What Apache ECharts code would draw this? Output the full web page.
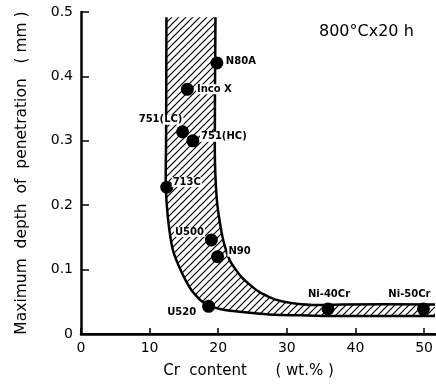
<!DOCTYPE html>
<html>
<head>
<meta charset="utf-8">
<script src="https://cdn.jsdelivr.net/npm/echarts@6/dist/echarts.min.js"></script>
<style>
  html, body { margin: 0; padding: 0; background: #fff; }
  #chart { width: 436px; height: 385px; }
</style>
</head>
<body>
<div id="chart"></div>
<script>
// Alloys tested: Cr content (wt.%) and maximum penetration depth (mm)
const alloyNames = ['N80A', 'Inco X', '751(LC)', '751(HC)', '713C', 'U500', 'N90', 'U520', 'Ni-40Cr', 'Ni-50Cr'];
const crContent = [19.8, 15.5, 14.8, 16.3, 12.5, 19.0, 19.9, 18.6, 36.0, 49.9];
const penetration = [0.421, 0.380, 0.314, 0.300, 0.228, 0.146, 0.120, 0.043, 0.039, 0.039];

// Label placement around each marker (px offset of text centre)
const labelOffsets = [[24, -1], [27, 0], [-22, -12], [31, -4], [20, -5], [-22, -8], [22, -5], [-27, 6], [1, -14], [-14, -14]];

// Scatter band: lower/left boundary (top to bottom, then along the base)
const lowerBoundX = [12.45, 12.4, 12.35, 12.65, 13.4, 14.7, 16.1, 17.7, 19.5, 21.2, 24.6, 28.0, 32.0, 36.0, 51.6];
const lowerBoundY = [0.492, 0.300, 0.234, 0.182, 0.130, 0.095, 0.068, 0.050, 0.041, 0.037, 0.033, 0.030, 0.029, 0.028, 0.028];
// Upper/right boundary (top to bottom, then out to the right)
const upperBoundX = [19.6, 19.5, 19.8, 20.5, 21.0, 21.8, 23.5, 26.0, 28.5, 31.4, 34.7, 38.0, 51.6];
const upperBoundY = [0.492, 0.286, 0.208, 0.157, 0.135, 0.112, 0.087, 0.065, 0.053, 0.047, 0.045, 0.046, 0.046];

const xTicks = { min: 0, max: 51.6, interval: 10 };
const yTicks = { min: 0, max: 0.5, interval: 0.1 };

function makeHatch() {
  const s = 7;
  const c = document.createElement('canvas');
  c.width = s; c.height = s;
  const g = c.getContext('2d');
  g.strokeStyle = '#000';
  g.lineWidth = 1.2;
  g.beginPath();
  g.moveTo(-1, s + 1); g.lineTo(s + 1, -1);
  g.moveTo(-1, 1); g.lineTo(1, -1);
  g.moveTo(s - 1, s + 1); g.lineTo(s + 1, s - 1);
  g.stroke();
  return c;
}
const hatch = makeHatch();

const chart = echarts.init(document.getElementById('chart'), null, { renderer: 'canvas' });
const FONT = 'DejaVu Sans';

const scatterData = alloyNames.map((n, i) => ({
  name: n,
  value: [crContent[i], penetration[i]],
  label: {
    show: true,
    formatter: n,
    position: 'inside',
    offset: labelOffsets[i],
    align: 'center',
    verticalAlign: 'middle',
    fontFamily: FONT,
    fontWeight: 'bold',
    fontSize: 10,
    color: '#000',
    opacity: 1,
    backgroundColor: '#fff',
    padding: [0, 1]
  }
}));

chart.setOption({
  animation: false,
  backgroundColor: '#fff',
  grid: { left: 81, right: 0, top: 12, bottom: 51, containLabel: false },
  xAxis: [{
    type: 'value',
    min: xTicks.min, max: xTicks.max, interval: xTicks.interval,
    name: 'Cr  content      ( wt.% )    ',
    nameLocation: 'middle',
    nameGap: 30,
    nameTextStyle: { fontFamily: FONT, fontSize: 15, color: '#000' },
    axisLine: { show: true, onZero: false, lineStyle: { color: '#000', width: 2.5 } },
    axisTick: { show: true, inside: true, length: 6, lineStyle: { color: '#000', width: 1.5 } },
    axisLabel: { fontFamily: FONT, fontSize: 14, color: '#000', margin: 7, showMaxLabel: false },
    splitLine: { show: false }
  }, {
    type: 'value',
    position: 'top',
    min: xTicks.min, max: xTicks.max,
    axisLine: { show: true, lineStyle: { color: '#000', width: 2 } },
    axisTick: { show: false },
    axisLabel: { show: false },
    splitLine: { show: false }
  }],
  yAxis: {
    type: 'value',
    min: yTicks.min, max: yTicks.max, interval: yTicks.interval,
    name: 'Maximum  depth  of  penetration   ( mm )',
    nameLocation: 'middle',
    nameGap: 51,
    nameTextStyle: { fontFamily: FONT, fontSize: 15.5, color: '#000' },
    axisLine: { show: true, lineStyle: { color: '#000', width: 2.5 } },
    axisTick: { show: true, inside: true, length: 8, lineStyle: { color: '#000', width: 1.5 } },
    axisLabel: { fontFamily: FONT, fontSize: 14, color: '#000', margin: 8 },
    splitLine: { show: false }
  },
  graphic: [{
    type: 'text',
    left: 319,
    top: 24,
    style: { text: '800°Cx20 h', fontFamily: FONT, fontSize: 16, fill: '#000' }
  }],
  series: [{
    type: 'custom',
    coordinateSystem: 'cartesian2d',
    clip: true,
    z: 1,
    data: [[0, 0]],
    renderItem: function (params, api) {
      const lower = lowerBoundX.map((x, i) => api.coord([x, lowerBoundY[i]]));
      const upper = upperBoundX.map((x, i) => api.coord([x, upperBoundY[i]]));
      const poly = lower.concat(upper.slice().reverse());
      return {
        type: 'group',
        children: [{
          type: 'polygon',
          shape: { points: poly, smooth: 0 },
          style: { fill: { image: hatch, repeat: 'repeat' }, stroke: null }
        }, {
          type: 'polyline',
          shape: { points: lower, smooth: 0.2 },
          style: { stroke: '#000', lineWidth: 2.5, fill: null }
        }, {
          type: 'polyline',
          shape: { points: upper, smooth: 0.2 },
          style: { stroke: '#000', lineWidth: 2.5, fill: null }
        }]
      };
    }
  }, {
    type: 'scatter',
    z: 5,
    symbol: 'circle',
    symbolSize: 13,
    itemStyle: { color: '#000', opacity: 1 },
    data: scatterData
  }]
});
</script>
</body>
</html>
